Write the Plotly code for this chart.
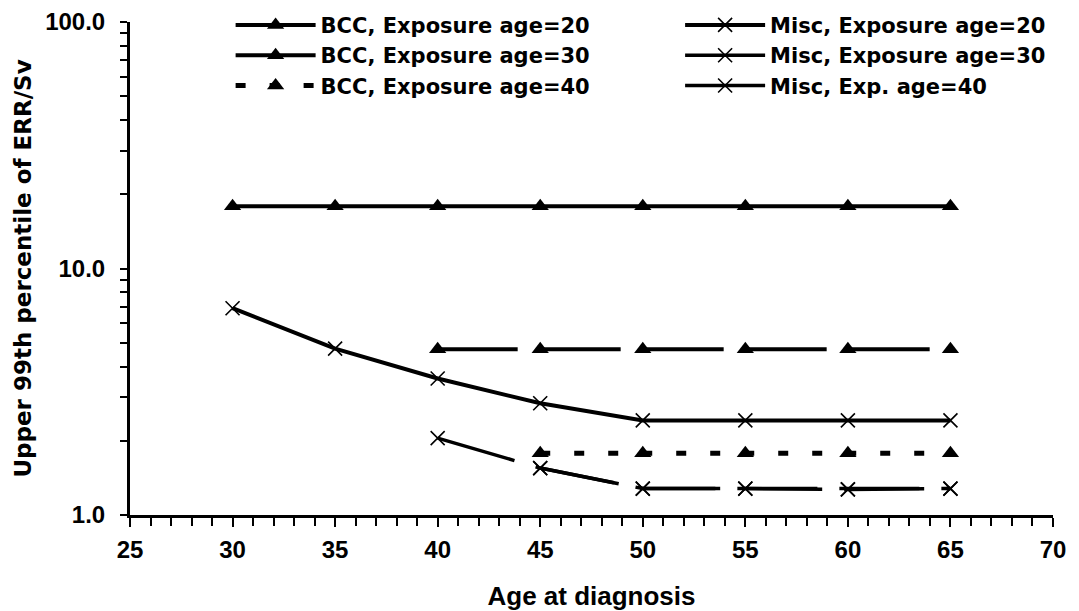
import plotly.graph_objects as go

# ---- data ----
bcc20_x = [30, 35, 40, 45, 50, 55, 60, 65]
bcc20_y = [17.9, 17.9, 17.9, 17.9, 17.9, 17.9, 17.9, 17.9]
bcc30_x = [40, 45, 50, 55, 60, 65]
bcc30_y = [4.7, 4.7, 4.7, 4.7, 4.7, 4.7]
bcc40_x = [45, 50, 55, 60, 65]
bcc40_y = [1.78, 1.78, 1.78, 1.78, 1.78]
misc20_x = [30, 35, 40, 45, 50, 55, 60, 65]
misc20_y = [6.9, 4.73, 3.58, 2.84, 2.42, 2.42, 2.42, 2.42]
misc30_x = [40, 45, 50, 55, 60, 65]
misc30_y = [2.05, 1.55, 1.28, 1.28, 1.27, 1.28]
misc40_x = [45, 50, 55, 60, 65]
misc40_y = [1.55, 1.28, 1.28, 1.27, 1.28]

names = {
    "bcc20": "BCC, Exposure age=20",
    "bcc30": "BCC, Exposure age=30",
    "bcc40": "BCC, Exposure age=40",
    "misc20": "Misc, Exposure age=20",
    "misc30": "Misc, Exposure age=30",
    "misc40": "Misc, Exp. age=40",
}

x_ticks = [25, 30, 35, 40, 45, 50, 55, 60, 65, 70]
y_ticks = [1, 10, 100]
y_ticktext = ["1.0", "10.0", "100.0"]
y_minor = [2, 3, 4, 5, 6, 7, 8, 9, 20, 30, 40, 50, 60, 70, 80, 90]

FONT = "Liberation Sans, Arial, sans-serif"
WIDE = "DejaVu Sans, Verdana, sans-serif"
BLACK = "#000000"

tri = dict(symbol="triangle-up", size=15, color=BLACK)
cross = dict(symbol="x-thin-open", size=14, color=BLACK, line=dict(color=BLACK, width=1.6))

fig = go.Figure()
fig.add_trace(go.Scatter(x=bcc20_x, y=bcc20_y, name=names["bcc20"], mode="lines+markers",
                         line=dict(color=BLACK, width=4), marker=tri,
                         legend="legend", legendgroup="a"))
fig.add_trace(go.Scatter(x=bcc30_x, y=bcc30_y, name=names["bcc30"], mode="lines+markers",
                         line=dict(color=BLACK, width=4, dash="80px,23px"), marker=tri,
                         legend="legend", legendgroup="b"))
fig.add_trace(go.Scatter(x=bcc40_x, y=bcc40_y, name=names["bcc40"], mode="lines+markers",
                         line=dict(color=BLACK, width=5, dash="10px,24px"), marker=tri,
                         legend="legend", legendgroup="c"))
fig.add_trace(go.Scatter(x=misc20_x, y=misc20_y, name=names["misc20"], mode="lines+markers",
                         line=dict(color=BLACK, width=4), marker=cross,
                         legend="legend2", legendgroup="d"))
fig.add_trace(go.Scatter(x=misc30_x, y=misc30_y, name=names["misc30"], mode="lines+markers",
                         line=dict(color=BLACK, width=3.5, dash="80px,22px"), marker=cross,
                         legend="legend2", legendgroup="e"))
fig.add_trace(go.Scatter(x=misc40_x, y=misc40_y, name=names["misc40"], mode="lines+markers",
                         line=dict(color=BLACK, width=3.5, dash="80px,22px"), marker=cross,
                         legend="legend2", legendgroup="f"))

legend_common = dict(
    yanchor="top", y=1.035, xanchor="left",
    bgcolor="rgba(0,0,0,0)", borderwidth=0,
    font=dict(family=WIDE, size=21, color=BLACK, weight="bold"),
    itemwidth=80, traceorder="grouped", tracegroupgap=0,
)

fig.update_layout(
    width=1079, height=611,
    margin=dict(l=130, r=26, t=22, b=96, autoexpand=False),
    paper_bgcolor="white", plot_bgcolor="white",
    font=dict(family=FONT, color=BLACK),
    legend=dict(x=0.109, **legend_common),
    legend2=dict(x=0.596, **legend_common),
    showlegend=True,
)

fig.update_xaxes(
    range=[25, 70], tickvals=x_ticks, ticks="outside", ticklen=9, tickwidth=2,
    tickcolor=BLACK, showline=True, linecolor=BLACK, linewidth=3, showgrid=False,
    zeroline=False, ticklabelstandoff=2,
    tickfont=dict(family=FONT, size=24, color=BLACK, weight="bold"),
    minor=dict(dtick=1, ticks="outside", ticklen=8, tickwidth=2, tickcolor=BLACK, showgrid=False),
    title=dict(text="Age at diagnosis", standoff=30,
               font=dict(family=FONT, size=26, color=BLACK, weight="bold")),
)
fig.update_yaxes(
    type="log", range=[0, 2], tickvals=y_ticks, ticktext=y_ticktext,
    ticks="outside", ticklen=7, tickwidth=2, tickcolor=BLACK,
    showline=True, linecolor=BLACK, linewidth=3, showgrid=False, zeroline=False,
    ticklabelstandoff=10,
    tickfont=dict(family=FONT, size=24, color=BLACK, weight="bold"),
    minor=dict(tickvals=y_minor, ticks="outside", ticklen=7, tickwidth=2,
               tickcolor=BLACK, showgrid=False),
    title=dict(text="Upper 99th percentile of ERR/Sv", standoff=8,
               font=dict(family=WIDE, size=23, color=BLACK, weight="bold")),
)

fig.write_html(
    "out.html",
    config={"displayModeBar": False},
    post_script="document.body.style.margin='0';document.body.style.overflow='hidden';",
)
